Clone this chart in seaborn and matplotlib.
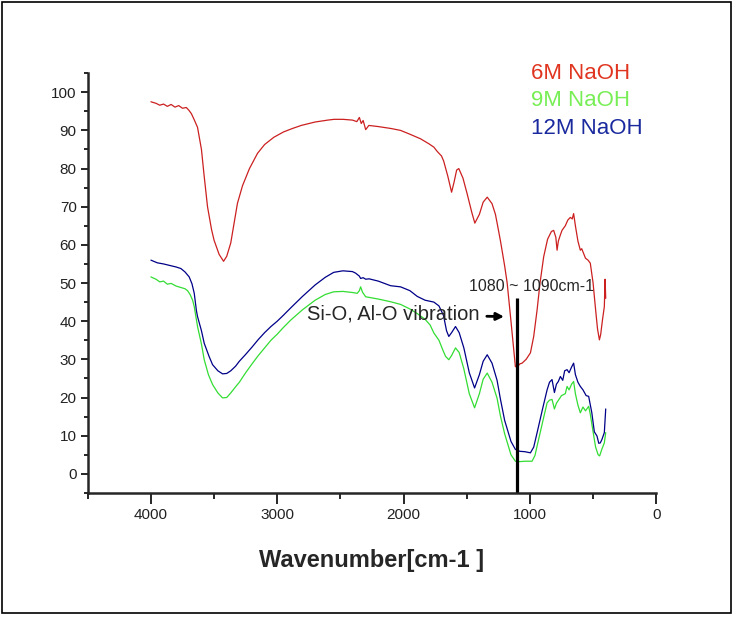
import pandas as pd
import matplotlib.pyplot as plt
import seaborn as sns
from matplotlib.ticker import MultipleLocator
from matplotlib.patches import Rectangle

# FT-IR spectra (wavenumber cm-1, transmittance %)
wn_6m = [4000, 3960, 3930, 3900, 3870, 3840, 3810, 3780, 3750, 3720,
         3700, 3680, 3660, 3631, 3600, 3580, 3552, 3520, 3500, 3460,
         3425, 3400, 3368, 3340, 3315, 3275, 3220, 3156, 3100, 3027,
         2950, 2880, 2810, 2700, 2600, 2550, 2480, 2405, 2370, 2350,
         2335, 2320, 2300, 2275, 2200, 2100, 2024, 1950, 1866, 1800,
         1760, 1734, 1700, 1683, 1650, 1620, 1600, 1580, 1563, 1530,
         1497, 1460, 1436, 1400, 1370, 1338, 1300, 1273, 1259, 1233,
         1200, 1180, 1150, 1115, 1100, 1080, 1062, 1030, 996, 970,
         943, 920, 891, 860, 830, 812, 795, 785, 775, 760,
         746, 720, 700, 680, 665, 654, 640, 620, 601, 590,
         560, 540, 522, 500, 480, 465, 450, 440, 425, 411,
         405, 400]
t_6m = [97.5, 97.1, 96.6, 96.9, 96.3, 96.8, 96.1, 96.5, 95.8, 96.0,
        95.3, 94.4, 93.0, 90.8, 85.0, 78.5, 70.0, 64.0, 61.2, 57.5,
        55.7, 57.0, 60.5, 66.0, 70.9, 75.5, 80.0, 84.0, 86.3, 88.2,
        89.6, 90.5, 91.3, 92.2, 92.7, 92.9, 92.9, 92.7, 92.3, 93.4,
        91.8, 92.6, 90.2, 91.3, 91.0, 90.5, 90.0, 89.0, 87.8, 86.5,
        85.6, 84.5, 83.3, 82.0, 78.0, 73.8, 76.5, 79.6, 80.0, 77.5,
        73.4, 68.5, 65.7, 68.0, 71.2, 72.5, 70.8, 68.0, 65.6, 61.0,
        54.5, 50.0, 40.0, 28.1, 28.0, 28.8, 29.0, 30.0, 31.7, 36.0,
        43.0, 50.0, 56.9, 61.5, 63.5, 63.8, 62.0, 58.6, 61.0, 62.5,
        63.8, 65.0, 66.5, 67.2, 66.8, 68.2, 65.0, 61.0, 58.6, 59.0,
        56.5, 56.0, 55.2, 50.0, 43.0, 38.0, 35.1, 36.5, 40.5, 43.8,
        51.0, 46.0]

wn_9m = [4000, 3960, 3930, 3900, 3870, 3840, 3800, 3760, 3730, 3710,
         3690, 3670, 3657, 3631, 3600, 3578, 3545, 3512, 3470, 3433,
         3400, 3368, 3330, 3300, 3250, 3200, 3150, 3100, 3050, 3000,
         2950, 2893, 2800, 2700, 2620, 2553, 2480, 2400, 2367, 2350,
         2340, 2325, 2300, 2200, 2103, 2024, 1950, 1892, 1830, 1790,
         1760, 1720, 1690, 1668, 1642, 1620, 1589, 1560, 1523, 1480,
         1438, 1400, 1370, 1338, 1300, 1260, 1233, 1200, 1150, 1115,
         1080, 1040, 983, 960, 943, 900, 864, 845, 825, 806,
         790, 770, 750, 720, 706, 690, 670, 654, 640, 620,
         601, 580, 560, 535, 522, 500, 480, 460, 448, 430,
         411, 400]
t_9m = [51.6, 51.0, 50.3, 50.5, 49.7, 49.9, 49.2, 48.8, 48.5, 48.0,
        47.0, 45.5, 43.8, 38.6, 34.0, 29.9, 26.0, 23.4, 21.2, 19.9,
        20.0, 21.2, 22.8, 24.0, 26.5, 28.8, 31.0, 33.0, 35.0, 36.6,
        38.4, 40.3, 43.0, 45.5, 47.0, 47.7, 47.8, 47.5, 47.3, 48.0,
        49.0, 47.6, 46.4, 45.8, 45.1, 44.4, 43.2, 42.0, 40.5, 39.0,
        36.9, 35.0, 32.5, 30.8, 29.9, 31.0, 33.0, 31.8, 27.5, 21.0,
        17.3, 21.0, 24.8, 26.4, 24.0, 19.8, 15.1, 10.5, 5.0, 3.3,
        3.2, 3.3, 3.3, 4.8, 7.3, 13.5, 18.6, 19.3, 19.5, 17.0,
        18.5, 19.5, 20.5, 21.0, 22.9, 22.0, 23.5, 24.2, 21.0, 18.0,
        16.0, 17.5, 16.5, 17.7, 15.6, 11.0, 7.0, 5.0, 4.7, 6.5,
        8.1, 10.8]

wn_12m = [4000, 3950, 3900, 3850, 3800, 3763, 3730, 3697, 3675, 3657,
          3640, 3631, 3600, 3578, 3540, 3512, 3470, 3433, 3400, 3368,
          3330, 3300, 3250, 3200, 3150, 3100, 3050, 3000, 2950, 2893,
          2800, 2700, 2620, 2553, 2480, 2405, 2380, 2350, 2340, 2320,
          2300, 2273, 2200, 2103, 2024, 1950, 1892, 1830, 1760, 1720,
          1684, 1660, 1642, 1620, 1589, 1560, 1523, 1480, 1438, 1400,
          1370, 1338, 1300, 1260, 1233, 1200, 1150, 1115, 1080, 1040,
          996, 970, 943, 900, 864, 845, 825, 806, 790, 775,
          759, 740, 725, 706, 690, 670, 654, 640, 620, 601,
          580, 555, 535, 510, 490, 469, 455, 443, 430, 411,
          400]
t_12m = [56.0, 55.3, 55.0, 54.6, 54.2, 53.8, 52.9, 51.6, 49.8, 47.3,
         42.8, 41.2, 37.5, 34.2, 30.8, 28.6, 27.0, 26.2, 26.3, 27.0,
         28.2, 29.5, 31.3, 33.2, 35.2, 37.0, 38.6, 40.0, 41.6, 43.5,
         46.5, 49.5, 51.5, 52.8, 53.2, 53.0, 52.6, 51.8, 51.2, 51.4,
         51.0, 51.1, 50.5, 49.3, 49.0, 48.0, 46.5, 45.5, 45.0, 44.0,
         41.5, 37.5, 36.0, 37.0, 38.6, 37.0, 33.0, 26.5, 22.5, 26.0,
         29.5, 31.2, 29.0, 24.5, 19.5, 14.0, 8.5, 6.4, 5.9, 5.8,
         5.5, 7.0, 10.8, 17.0, 22.0, 24.0, 24.7, 21.3, 23.5, 24.2,
         25.5, 24.5, 27.0, 27.3, 26.5, 28.0, 29.0, 26.0, 24.0, 22.9,
         22.0, 20.5, 20.3, 16.0, 11.0, 9.9, 8.0, 8.1, 9.0, 10.8,
         17.0]

labels = ['6M NaOH', '9M NaOH', '12M NaOH']
line_colors = ['#cc2020', '#33dd33', '#000088']
text_colors = ['#e03520', '#77ee55', '#1a2a9e']

peak_label = '1080 ~ 1090cm-1'
band_label = 'Si-O, Al-O vibration'

frames = []
for lab, wn, t in zip(labels, [wn_6m, wn_9m, wn_12m], [t_6m, t_9m, t_12m]):
    frames.append(pd.DataFrame({'wavenumber': wn, 'transmittance': t, 'sample': lab}))
df = pd.concat(frames, ignore_index=True)

sns.set_style('ticks')
plt.rcParams['font.family'] = ['Liberation Sans', 'DejaVu Sans']

fig = plt.figure(figsize=(7.5, 6.2), dpi=100)
ax = fig.add_axes([0.117, 0.205, 0.758, 0.677])

sns.lineplot(data=df, x='wavenumber', y='transmittance', hue='sample',
             hue_order=labels, palette=dict(zip(labels, line_colors)),
             estimator=None, sort=False, linewidth=0.9, ax=ax)

ax.set_xlim(4500, 0)
ax.set_ylim(-5, 105)
ax.xaxis.set_major_locator(MultipleLocator(1000))
ax.xaxis.set_minor_locator(MultipleLocator(500))
ax.yaxis.set_major_locator(MultipleLocator(10))
ax.yaxis.set_minor_locator(MultipleLocator(5))
ax.tick_params(axis='x', which='major', length=8, width=1.4, pad=3,
               labelsize=11, labelcolor='#222222')
ax.tick_params(axis='x', which='minor', length=4, width=1.4)
ax.tick_params(axis='y', which='major', length=5, width=1.4, pad=3,
               labelsize=11, labelcolor='#222222')
ax.tick_params(axis='y', which='minor', length=3, width=1.4)
sns.despine(ax=ax)
for s in ['left', 'bottom']:
    ax.spines[s].set_linewidth(1.8)

ax.set_xlabel('Wavenumber[cm-1 ]', fontsize=17, fontweight='bold', labelpad=19)
ax.set_ylabel('')

# peak marker and annotations
ax.plot([1100, 1100], [-5, 46.2], color='black', lw=2.3, solid_capstyle='butt',
        clip_on=False)
ax.text(988, 49.2, peak_label, fontsize=11.5, ha='center', va='center')
ax.annotate(band_label, xy=(1205, 41.2), xytext=(1400, 41.8),
            fontsize=14.5, ha='right', va='center',
            arrowprops=dict(arrowstyle='-|>', color='black', lw=2,
                            mutation_scale=11, shrinkA=3, shrinkB=0))

leg = ax.legend(loc='upper left', bbox_to_anchor=(0.78, 1.025), frameon=False,
                handlelength=0, handletextpad=0, borderpad=0, borderaxespad=0,
                labelspacing=0.3, fontsize=16, labelcolor=text_colors)
for h in leg.legend_handles:
    h.set_visible(False)

fig.patches.append(Rectangle((0.003, 0.011), 0.971, 0.985, transform=fig.transFigure,
                             fill=False, edgecolor='black', lw=1.2))

fig.savefig('out.png', dpi=100)
plt.close()
